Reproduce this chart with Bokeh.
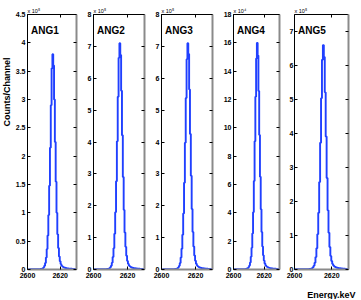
import math
from bokeh.plotting import figure
from bokeh.models import Range1d, FixedTicker, LinearAxis, Label
from bokeh.layouts import row, column
from bokeh.embed import file_html
from bokeh.resources import INLINE

# ---------------- data ----------------
# channel centres (0.5 keV channels from 2600 to 2630 keV)
energy = [2600 + 0.5 * k for k in range(61)]

ang1 = [300, 300, 300, 310, 320, 330, 340, 350, 360, 380,
        400, 420, 450, 500, 560, 650, 800, 1050, 1500, 2300,
        3800, 6500, 11500, 21000, 36000, 60000, 96000, 148000, 215000, 290000,
        355000, 380000, 360000, 300000, 225000, 155000, 100000, 62000, 38000, 23000,
        14500, 9500, 6800, 5200, 4200, 3500, 3000, 2600, 2300, 2000,
        1800, 1600, 1450, 1300, 1200, 1100, 1000, 950, 900, 850,
        800]
ang2 = [560, 560, 560, 580, 600, 620, 640, 650, 670, 710,
        750, 790, 840, 940, 1050, 1200, 1500, 2000, 2800, 4300,
        7100, 12000, 21500, 39000, 67000, 112000, 180000, 277000, 402000, 542000,
        664000, 710000, 673000, 561000, 421000, 290000, 187000, 116000, 71000, 43000,
        27000, 17800, 12700, 9700, 7900, 6500, 5600, 4900, 4300, 3700,
        3400, 3000, 2700, 2400, 2200, 2100, 1900, 1800, 1700, 1600,
        1500]
ang3 = [540, 540, 550, 560, 580, 600, 620, 640, 660, 700,
        740, 780, 830, 920, 1030, 1180, 1450, 1950, 2700, 4100,
        6800, 11500, 20500, 37500, 65000, 109000, 176000, 272000, 398000, 538000,
        660000, 710000, 676000, 565000, 425000, 294000, 190000, 118000, 72000, 44000,
        27500, 18000, 12800, 9800, 7900, 6500, 5600, 4900, 4300, 3800,
        3400, 3000, 2700, 2500, 2300, 2100, 1900, 1800, 1700, 1600,
        1500]
ang4 = [130, 130, 130, 135, 140, 145, 150, 155, 160, 170,
        180, 190, 200, 220, 250, 290, 360, 480, 680, 1050,
        1700, 2900, 5000, 9000, 15300, 25500, 40500, 62500, 90500, 122000,
        149000, 160000, 151000, 126000, 95000, 65500, 42500, 26500, 16300, 10000,
        6300, 4200, 3000, 2300, 1850, 1550, 1320, 1150, 1000, 890,
        800, 720, 650, 590, 540, 500, 460, 430, 400, 380,
        360]
ang5 = [520, 520, 520, 540, 560, 570, 590, 610, 630, 660,
        700, 730, 780, 870, 970, 1130, 1390, 1820, 2600, 4000,
        6600, 11300, 20000, 36500, 62500, 104000, 167000, 257000, 373000, 504000,
        617000, 660000, 625000, 521000, 391000, 269000, 174000, 108000, 66000, 40000,
        25200, 16500, 11800, 9000, 7300, 6100, 5200, 4500, 4000, 3500,
        3100, 2800, 2500, 2300, 2100, 1900, 1700, 1650, 1550, 1480,
        1400]

names = ["ANG1", "ANG2", "ANG3", "ANG4", "ANG5"]
series = [ang1, ang2, ang3, ang4, ang5]
y_max = [450000, 800000, 800000, 180000, 750000]
x_max = [2630, 2630, 2630, 2630, 2629]
multipliers = ["x 10\u2075", "x 10\u2075", "x 10\u2075", "x 10\u2074", "x 10\u2075"]

y_ticks = [
    [0, 50000, 100000, 150000, 200000, 250000, 300000, 350000, 400000, 450000],
    [0, 100000, 200000, 300000, 400000, 500000, 600000, 700000, 800000],
    [0, 100000, 200000, 300000, 400000, 500000, 600000, 700000, 800000],
    [0, 20000, 40000, 60000, 80000, 100000, 120000, 140000, 160000, 180000],
    [0, 100000, 200000, 300000, 400000, 500000, 600000, 700000],
]
y_tick_labels = [
    ["0", "0.5", "1", "1.5", "2", "2.5", "3", "3.5", "4", "4.5"],
    ["0", "1", "2", "3", "4", "5", "6", "7", "8"],
    ["0", "1", "2", "3", "4", "5", "6", "7", "8"],
    ["0", "2", "4", "6", "8", "10", "12", "14", "16", "18"],
    ["0", "1", "2", "3", "4", "5", "6", "7"],
]
x_ticks = [2600, 2620]
x_tick_labels = ["2600", "2620"]

y_title = "Counts/Channel"
x_title = "Energy.keV"

# ---------------- style / layout ----------------
FONT = "Liberation Sans"
BLUE = "#2040ff"
GRAY = "#8a8a8a"
TOTAL_W = 360
ROW_H, BOT_H = 283, 16
LEFT_W = 12
widths = [72, 68, 68, 66, 74]
b_left = [12, 8, 9, 8, 5]
b_right = [8, 8, 8, 7, 12]
B_TOP, B_BOTTOM = 14, 14
standoffs = [2, 2, 2, 2, 1]


def strip(w, h):
    s = figure(width=w, height=h, x_range=Range1d(0, w), y_range=Range1d(0, h),
               x_axis_type=None, y_axis_type=None, output_backend="svg",
               toolbar_location=None, min_border_left=0, min_border_right=0,
               min_border_top=0, min_border_bottom=0, outline_line_color=None,
               background_fill_color="white", border_fill_color="white")
    s.grid.visible = False
    return s


def blank_axis(ax, ticks, color, lw):
    ax.ticker = FixedTicker(ticks=ticks)
    ax.major_label_overrides = {t: "" for t in ticks}
    ax.major_label_text_font_size = "1px"
    ax.major_label_standoff = 0
    ax.major_tick_in = 3
    ax.major_tick_out = 0
    ax.minor_tick_line_color = None
    ax.axis_line_color = color
    ax.axis_line_width = lw
    ax.major_tick_line_color = "black"


figs = []
for i in range(5):
    p = figure(width=widths[i], height=ROW_H,
               x_range=Range1d(2600, x_max[i]), y_range=Range1d(0, y_max[i]),
               output_backend="svg", toolbar_location=None,
               min_border_left=b_left[i], min_border_right=b_right[i],
               min_border_top=B_TOP, min_border_bottom=B_BOTTOM,
               background_fill_color="white", border_fill_color="white",
               outline_line_color=None)
    p.grid.visible = False
    p.step(energy, series[i], mode="center", line_color=BLUE, line_width=1.9)

    # multiplier above the panel
    p.title.text = multipliers[i]
    p.title.align = "left"
    p.title.offset = 0
    p.title.standoff = 1
    p.title.text_font = FONT
    p.title.text_font_style = "normal"
    p.title.text_font_size = "5.5px"
    p.title.text_color = "black"

    ya = p.yaxis[0]
    ya.ticker = FixedTicker(ticks=y_ticks[i])
    ya.major_label_overrides = {t: s for t, s in zip(y_ticks[i], y_tick_labels[i])}
    ya.major_label_text_font = FONT
    ya.major_label_text_font_style = "bold"
    ya.major_label_text_font_size = "7px"
    ya.major_label_text_color = "black"
    ya.major_label_standoff = standoffs[i]
    ya.major_tick_in = 3
    ya.major_tick_out = 0
    ya.minor_tick_line_color = None
    ya.axis_line_color = "black"

    xa = p.xaxis[0]
    xa.ticker = FixedTicker(ticks=x_ticks)
    xa.major_label_overrides = {t: s for t, s in zip(x_ticks, x_tick_labels)}
    xa.major_label_text_font = FONT
    xa.major_label_text_font_style = "bold"
    xa.major_label_text_font_size = "7px"
    xa.major_label_text_color = "black"
    xa.major_label_standoff = 3
    xa.major_tick_in = 3
    xa.major_tick_out = 0
    xa.minor_tick_line_color = None
    xa.axis_line_color = GRAY
    xa.axis_line_width = 2

    top_ax = LinearAxis()
    blank_axis(top_ax, x_ticks, "black", 1)
    p.add_layout(top_ax, "above")
    right_ax = LinearAxis()
    blank_axis(right_ax, y_ticks[i], GRAY, 2)
    p.add_layout(right_ax, "right")

    p.add_layout(Label(x=2600, y=y_max[i], x_offset=3.5, y_offset=-15.5,
                       text=names[i], text_font=FONT, text_font_style="bold",
                       text_font_size="10px", text_color="black",
                       text_align="left", text_baseline="alphabetic"))
    figs.append(p)

# left strip: y title
left = strip(LEFT_W, ROW_H)
left.add_layout(Label(x=6.2, y=ROW_H - 86, text=y_title, angle=math.pi / 2,
                      text_font=FONT, text_font_style="bold", text_font_size="9px",
                      text_color="black", text_align="center", text_baseline="middle"))

# bottom strip: x title
bottom = strip(TOTAL_W, BOT_H)
bottom.add_layout(Label(x=355, y=4.5, text=x_title,
                        text_font=FONT, text_font_style="bold", text_font_size="9px",
                        text_color="black", text_align="right",
                        text_baseline="alphabetic"))

layout = column(row(left, *figs, spacing=0), bottom, spacing=0)
open("out.html", "w").write(file_html(layout, INLINE))
